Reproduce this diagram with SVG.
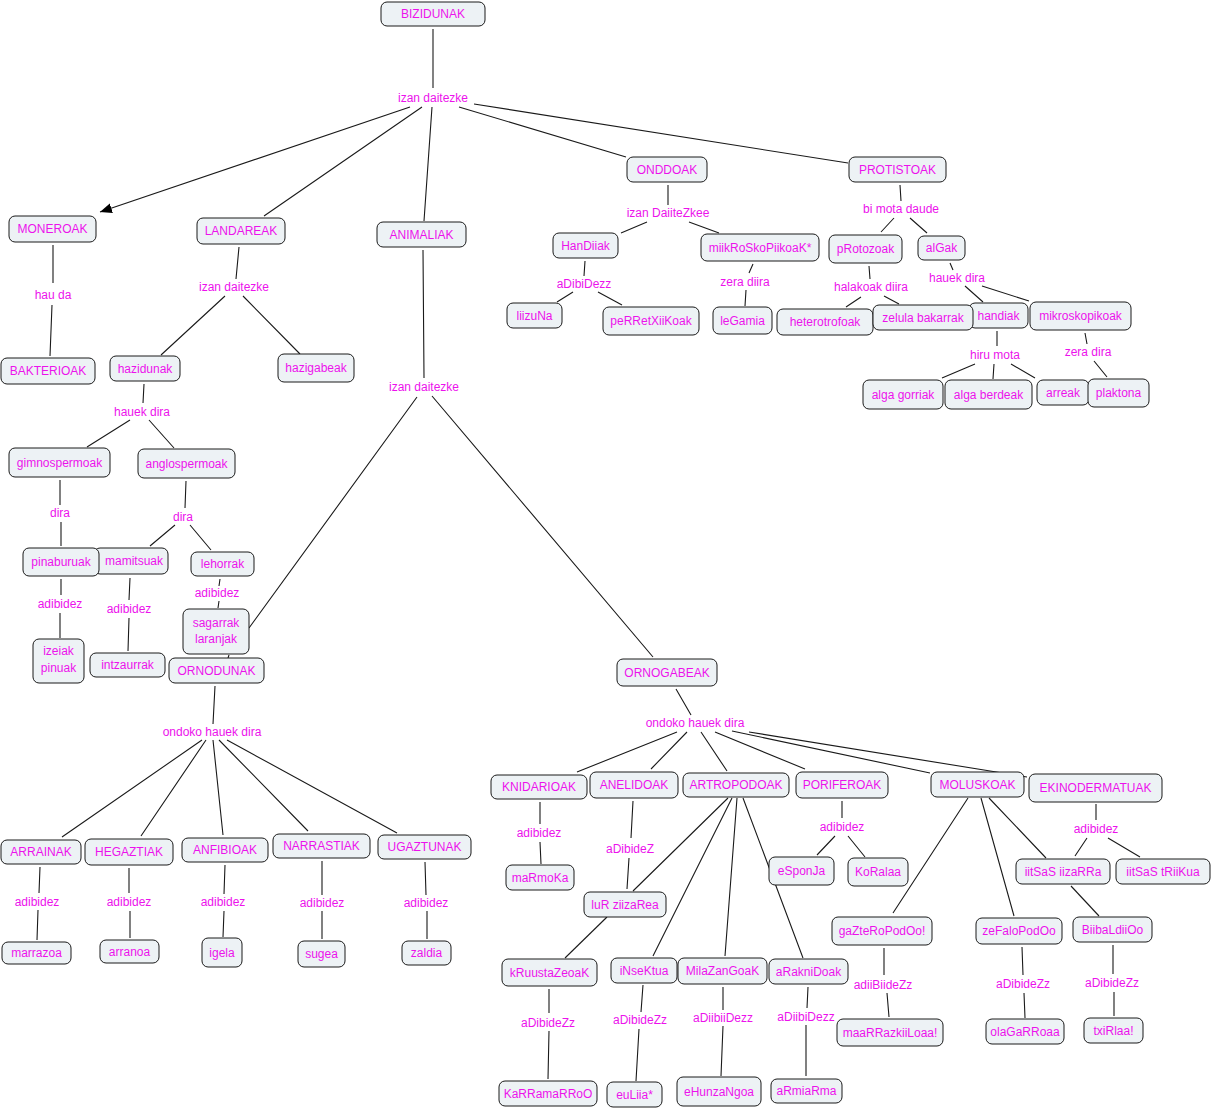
<svg xmlns="http://www.w3.org/2000/svg" width="1213" height="1110" viewBox="0 0 1213 1110">
<style>
.n rect{fill:#edf2f5;stroke:#1a1a1a;stroke-width:1}
text{font-family:"Comic Sans MS","Liberation Sans",Arial,sans-serif;font-size:12px;fill:#ec12ec;text-anchor:middle;dominant-baseline:central}
.c path,.c line{stroke:#1a1a1a;stroke-width:1.1;fill:none}
</style>
<defs>
<marker id="ah" markerUnits="userSpaceOnUse" markerWidth="14" markerHeight="12" refX="12" refY="6" orient="auto">
<path d="M0,1 L12,6 L0,11 z" fill="#000"/>
</marker>
</defs>
<rect width="1213" height="1110" fill="#fff"/>
<g class="c" id="connectors">
<path d="M433,29 L433,88"/>
<line x1="410" y1="107" x2="100" y2="212" marker-end="url(#ah)"/>
<path d="M422,107 L264,216 M432,107 L424,221 M459,107 L626,157 M474,104 L848,163"/>
<path d="M53,245 L53,283 M52,305 L50,356"/>
<path d="M239,247 L236,279 M225,296 L161,355 M243,296 L300,354"/>
<path d="M423,250 L424,378 M417,397 L249,628 M432,396 L653,657"/>
<path d="M668,185 L668,205 M647,222 L621,233 M689,222 L719,233"/>
<path d="M585,261 L584,276 M573,292 L557,302 M598,292 L622,305"/>
<path d="M753,264 L749,273 M746,290 L745,306"/>
<path d="M900,185 L901,201 M894,218 L881,232 M910,218 L927,233"/>
<path d="M869,266 L870,279 M861,297 L846,307 M884,296 L899,304"/>
<path d="M950,263 L953,270 M965,286 L983,302 M982,286 L1029,301"/>
<path d="M997,331 L997,346 M975,364 L942,378 M994,364 L993,379 M1011,364 L1035,378"/>
<path d="M1085,333 L1087,344 M1094,361 L1107,377"/>
<path d="M144,384 L143,403 M130,420 L87,447 M149,420 L174,448"/>
<path d="M60,480 L60,505 M61,522 L61,546"/>
<path d="M186,481 L185,508 M175,525 L150,546 M190,525 L211,550"/>
<path d="M61,579 L61,595 M60,613 L60,638"/>
<path d="M130,578 L129,600 M129,618 L128,651"/>
<path d="M220,579 L219,586 M219,601 L218,608 M229,655 L228,658"/>
<path d="M215,686 L213,724 M202,740 L62,837 M206,740 L141,836 M213,740 L223,835 M219,740 L308,831 M227,740 L397,833"/>
<path d="M40,867 L39,893 M38,910 L37,940"/>
<path d="M129,868 L129,893 M130,911 L130,938"/>
<path d="M225,865 L224,894 M224,911 L223,937"/>
<path d="M322,861 L322,895 M322,911 L322,939"/>
<path d="M425,862 L426,895 M427,911 L427,939"/>
<path d="M676,689 L691,715 M677,732 L577,772 M687,732 L651,769 M701,732 L727,771 M715,732 L805,769 M732,731 L930,773 M749,732 L1027,777"/>
<path d="M540,802 L540,824 M540,842 L541,864"/>
<path d="M633,801 L631,838 M629,858 L627,889"/>
<path d="M728,798 L633,891 M732,798 L653,956 M737,798 L725,956 M743,798 L803,958"/>
<path d="M842,801 L842,818 M835,836 L817,855 M848,836 L865,857"/>
<path d="M968,798 L893,913 M981,798 L1014,916 M989,798 L1046,858"/>
<path d="M1096,804 L1096,820 M1087,838 L1075,856 M1108,838 L1140,857"/>
<path d="M1071,886 L1099,916"/>
<path d="M607,917 L565,958"/>
<path d="M884,948 L884,975 M887,993 L889,1017"/>
<path d="M1022,947 L1023,975 M1024,993 L1025,1018"/>
<path d="M1113,945 L1113,974 M1114,992 L1114,1016"/>
<path d="M549,989 L549,1013 M549,1031 L548,1079"/>
<path d="M643,985 L641,1012 M639,1029 L636,1081"/>
<path d="M723,987 L723,1010 M723,1026 L721,1076"/>
<path d="M808,987 L807,1008 M806,1025 L806,1076"/>
</g>
<g id="labels">
<text x="433" y="98">izan daitezke</text>
<text x="53" y="295">hau da</text>
<text x="234" y="287">izan daitezke</text>
<text x="424" y="387">izan daitezke</text>
<text x="668" y="213">izan DaiiteZkee</text>
<text x="584" y="284">aDibiDezz</text>
<text x="745" y="282">zera diira</text>
<text x="901" y="209">bi mota daude</text>
<text x="871" y="287">halakoak diira</text>
<text x="957" y="278">hauek dira</text>
<text x="995" y="355">hiru mota</text>
<text x="1088" y="352">zera dira</text>
<text x="142" y="412">hauek dira</text>
<text x="60" y="513">dira</text>
<text x="183" y="517">dira</text>
<text x="60" y="604">adibidez</text>
<text x="129" y="609">adibidez</text>
<text x="217" y="593">adibidez</text>
<text x="212" y="732">ondoko hauek dira</text>
<text x="37" y="902">adibidez</text>
<text x="129" y="902">adibidez</text>
<text x="223" y="902">adibidez</text>
<text x="322" y="903">adibidez</text>
<text x="426" y="903">adibidez</text>
<text x="695" y="723">ondoko hauek dira</text>
<text x="539" y="833">adibidez</text>
<text x="630" y="849">aDibideZ</text>
<text x="842" y="827">adibidez</text>
<text x="1096" y="829">adibidez</text>
<text x="883" y="985">adiiBiideZz</text>
<text x="1023" y="984">aDibideZz</text>
<text x="1112" y="983">aDibideZz</text>
<text x="548" y="1023">aDibideZz</text>
<text x="640" y="1020">aDibideZz</text>
<text x="723" y="1018">aDiibiiDezz</text>
<text x="806" y="1017">aDiibiDezz</text>
</g>
<g class="n" id="n-bizidunak"><rect x="381" y="2" width="104" height="24" rx="6"/><text x="433" y="14">BIZIDUNAK</text></g>
<g class="n" id="n-moneroak"><rect x="9" y="216" width="87" height="26" rx="6"/><text x="52.5" y="229">MONEROAK</text></g>
<g class="n" id="n-bakterioak"><rect x="1" y="358" width="94" height="26" rx="6"/><text x="48" y="371">BAKTERIOAK</text></g>
<g class="n" id="n-landareak"><rect x="197" y="218" width="88" height="26" rx="6"/><text x="241" y="231">LANDAREAK</text></g>
<g class="n" id="n-hazidunak"><rect x="110" y="356" width="70" height="25" rx="6"/><text x="145" y="368.5">hazidunak</text></g>
<g class="n" id="n-hazigabeak"><rect x="278" y="354" width="76" height="28" rx="6"/><text x="316" y="368">hazigabeak</text></g>
<g class="n" id="n-animaliak"><rect x="377" y="222" width="89" height="25" rx="6"/><text x="421.5" y="234.5">ANIMALIAK</text></g>
<g class="n" id="n-onddoak"><rect x="627" y="157" width="80" height="25" rx="6"/><text x="667" y="169.5">ONDDOAK</text></g>
<g class="n" id="n-handiiak"><rect x="553" y="233" width="65" height="25" rx="6"/><text x="585.5" y="245.5">HanDiiak</text></g>
<g class="n" id="n-liizuna"><rect x="507" y="303" width="55" height="25" rx="6"/><text x="534.5" y="315.5">liizuNa</text></g>
<g class="n" id="n-perretxiikoak"><rect x="603" y="307" width="96" height="28" rx="6"/><text x="651" y="321">peRRetXiiKoak</text></g>
<g class="n" id="n-miikroskopiikoak"><rect x="701" y="234" width="118" height="27" rx="6"/><text x="760" y="247.5">miikRoSkoPiikoaK*</text></g>
<g class="n" id="n-legamia"><rect x="713" y="307" width="59" height="27" rx="6"/><text x="742.5" y="320.5">leGamia</text></g>
<g class="n" id="n-protistoak"><rect x="849" y="157" width="97" height="25" rx="6"/><text x="897.5" y="169.5">PROTISTOAK</text></g>
<g class="n" id="n-protozoak"><rect x="829" y="235" width="73" height="28" rx="6"/><text x="865.5" y="249">pRotozoak</text></g>
<g class="n" id="n-algak"><rect x="918" y="236" width="47" height="24" rx="6"/><text x="941.5" y="248">alGak</text></g>
<g class="n" id="n-heterotrofoak"><rect x="777" y="309" width="96" height="26" rx="6"/><text x="825" y="322">heterotrofoak</text></g>
<g class="n" id="n-handiak"><rect x="969" y="303" width="59" height="25" rx="6"/><text x="998.5" y="315.5">handiak</text></g>
<g class="n" id="n-zelula"><rect x="873" y="305" width="100" height="25" rx="6"/><text x="923" y="317.5">zelula bakarrak</text></g>
<g class="n" id="n-mikroskopikoak"><rect x="1030" y="302" width="101" height="28" rx="6"/><text x="1080.5" y="316">mikroskopikoak</text></g>
<g class="n" id="n-algagorriak"><rect x="863" y="380" width="80" height="29" rx="6"/><text x="903" y="394.5">alga gorriak</text></g>
<g class="n" id="n-algaberdeak"><rect x="945" y="380" width="87" height="29" rx="6"/><text x="988.5" y="394.5">alga berdeak</text></g>
<g class="n" id="n-arreak"><rect x="1037" y="380" width="52" height="25" rx="6"/><text x="1063" y="392.5">arreak</text></g>
<g class="n" id="n-plaktona"><rect x="1088" y="379" width="61" height="28" rx="6"/><text x="1118.5" y="393">plaktona</text></g>
<g class="n" id="n-gimnospermoak"><rect x="9" y="448" width="101" height="29" rx="6"/><text x="59.5" y="462.5">gimnospermoak</text></g>
<g class="n" id="n-anglospermoak"><rect x="138" y="449" width="97" height="29" rx="6"/><text x="186.5" y="463.5">anglospermoak</text></g>
<g class="n" id="n-mamitsuak"><rect x="94" y="548" width="74" height="26" rx="6"/><text x="134" y="561">mamitsuak</text></g>
<g class="n" id="n-pinaburuak"><rect x="23" y="548" width="76" height="28" rx="6"/><text x="61" y="562">pinaburuak</text></g>
<g class="n" id="n-lehorrak"><rect x="191" y="552" width="63" height="24" rx="6"/><text x="222.5" y="564">lehorrak</text></g>
<g class="n" id="n-izeiak"><rect x="33" y="639" width="51" height="44" rx="6"/><text x="58.5" y="651">izeiak</text><text x="58.5" y="668">pinuak</text></g>
<g class="n" id="n-intzaurrak"><rect x="90" y="653" width="75" height="24" rx="6"/><text x="127.5" y="665">intzaurrak</text></g>
<g class="n" id="n-sagarrak"><rect x="183" y="609" width="66" height="45" rx="6"/><text x="216" y="623">sagarrak</text><text x="216" y="639">laranjak</text></g>
<g class="n" id="n-ornodunak"><rect x="169" y="658" width="95" height="25" rx="6"/><text x="216.5" y="670.5">ORNODUNAK</text></g>
<g class="n" id="n-arrainak"><rect x="1" y="840" width="80" height="24" rx="6"/><text x="41" y="852">ARRAINAK</text></g>
<g class="n" id="n-hegaztiak"><rect x="85" y="839" width="88" height="26" rx="6"/><text x="129" y="852">HEGAZTIAK</text></g>
<g class="n" id="n-anfibioak"><rect x="182" y="838" width="86" height="24" rx="6"/><text x="225" y="850">ANFIBIOAK</text></g>
<g class="n" id="n-narrastiak"><rect x="273" y="834" width="97" height="24" rx="6"/><text x="321.5" y="846">NARRASTIAK</text></g>
<g class="n" id="n-ugaztunak"><rect x="378" y="835" width="93" height="24" rx="6"/><text x="424.5" y="847">UGAZTUNAK</text></g>
<g class="n" id="n-marrazoa"><rect x="2" y="942" width="69" height="22" rx="6"/><text x="36.5" y="953">marrazoa</text></g>
<g class="n" id="n-arranoa"><rect x="100" y="940" width="59" height="23" rx="6"/><text x="129.5" y="951.5">arranoa</text></g>
<g class="n" id="n-igela"><rect x="202" y="938" width="40" height="29" rx="6"/><text x="222" y="952.5">igela</text></g>
<g class="n" id="n-sugea"><rect x="298" y="941" width="47" height="26" rx="6"/><text x="321.5" y="954">sugea</text></g>
<g class="n" id="n-zaldia"><rect x="402" y="941" width="49" height="24" rx="6"/><text x="426.5" y="953">zaldia</text></g>
<g class="n" id="n-ornogabeak"><rect x="617" y="659" width="100" height="27" rx="6"/><text x="667" y="672.5">ORNOGABEAK</text></g>
<g class="n" id="n-knidarioak"><rect x="491" y="775" width="96" height="24" rx="6"/><text x="539" y="787">KNIDARIOAK</text></g>
<g class="n" id="n-anelidoak"><rect x="590" y="772" width="88" height="26" rx="6"/><text x="634" y="785">ANELIDOAK</text></g>
<g class="n" id="n-artropodoak"><rect x="683" y="773" width="106" height="24" rx="6"/><text x="736" y="785">ARTROPODOAK</text></g>
<g class="n" id="n-poriferoak"><rect x="796" y="772" width="92" height="26" rx="6"/><text x="842" y="785">PORIFEROAK</text></g>
<g class="n" id="n-moluskoak"><rect x="931" y="772" width="93" height="25" rx="6"/><text x="977.5" y="784.5">MOLUSKOAK</text></g>
<g class="n" id="n-ekinodermatuak"><rect x="1029" y="774" width="133" height="28" rx="6"/><text x="1095.5" y="788">EKINODERMATUAK</text></g>
<g class="n" id="n-marmoka"><rect x="506" y="865" width="68" height="25" rx="6"/><text x="540" y="877.5">maRmoKa</text></g>
<g class="n" id="n-lurziizarea"><rect x="584" y="892" width="82" height="25" rx="6"/><text x="625" y="904.5">luR ziizaRea</text></g>
<g class="n" id="n-esponja"><rect x="769" y="857" width="65" height="28" rx="6"/><text x="801.5" y="871">eSponJa</text></g>
<g class="n" id="n-koralaa"><rect x="848" y="858" width="60" height="28" rx="6"/><text x="878" y="872">KoRalaa</text></g>
<g class="n" id="n-iitsasiizarra"><rect x="1016" y="859" width="94" height="25" rx="6"/><text x="1063" y="871.5">iitSaS iizaRRa</text></g>
<g class="n" id="n-iitsastriikua"><rect x="1116" y="859" width="94" height="25" rx="6"/><text x="1163" y="871.5">iitSaS tRiiKua</text></g>
<g class="n" id="n-gazteropodoo"><rect x="832" y="917" width="100" height="28" rx="6"/><text x="882" y="931">gaZteRoPodOo!</text></g>
<g class="n" id="n-zefalopodoo"><rect x="976" y="918" width="86" height="26" rx="6"/><text x="1019" y="931">zeFaloPodOo</text></g>
<g class="n" id="n-biibaldiioo"><rect x="1073" y="917" width="79" height="25" rx="6"/><text x="1112.5" y="929.5">BiibaLdiiOo</text></g>
<g class="n" id="n-maarrazkiiloaa"><rect x="837" y="1019" width="106" height="27" rx="6"/><text x="890" y="1032.5">maaRRazkiiLoaa!</text></g>
<g class="n" id="n-olagarroaa"><rect x="986" y="1019" width="78" height="25" rx="6"/><text x="1025" y="1031.5">olaGaRRoaa</text></g>
<g class="n" id="n-txirlaa"><rect x="1084" y="1018" width="59" height="25" rx="6"/><text x="1113.5" y="1030.5">txiRlaa!</text></g>
<g class="n" id="n-kruustazeoak"><rect x="502" y="959" width="95" height="27" rx="6"/><text x="549.5" y="972.5">kRuustaZeoaK</text></g>
<g class="n" id="n-insektua"><rect x="611" y="958" width="66" height="25" rx="6"/><text x="644" y="970.5">iNseKtua</text></g>
<g class="n" id="n-milazangoak"><rect x="678" y="958" width="89" height="26" rx="6"/><text x="722.5" y="971">MilaZanGoaK</text></g>
<g class="n" id="n-araknidoak"><rect x="769" y="959" width="79" height="25" rx="6"/><text x="808.5" y="971.5">aRakniDoak</text></g>
<g class="n" id="n-karramarroo"><rect x="499" y="1081" width="98" height="25" rx="6"/><text x="548" y="1093.5">KaRRamaRRoO</text></g>
<g class="n" id="n-euliia"><rect x="607" y="1082" width="55" height="25" rx="6"/><text x="634.5" y="1094.5">euLiia*</text></g>
<g class="n" id="n-ehunzangoa"><rect x="677" y="1077" width="84" height="29" rx="6"/><text x="719" y="1091.5">eHunzaNgoa</text></g>
<g class="n" id="n-armiarma"><rect x="771" y="1079" width="71" height="24" rx="6"/><text x="806.5" y="1091">aRmiaRma</text></g>
</svg>
